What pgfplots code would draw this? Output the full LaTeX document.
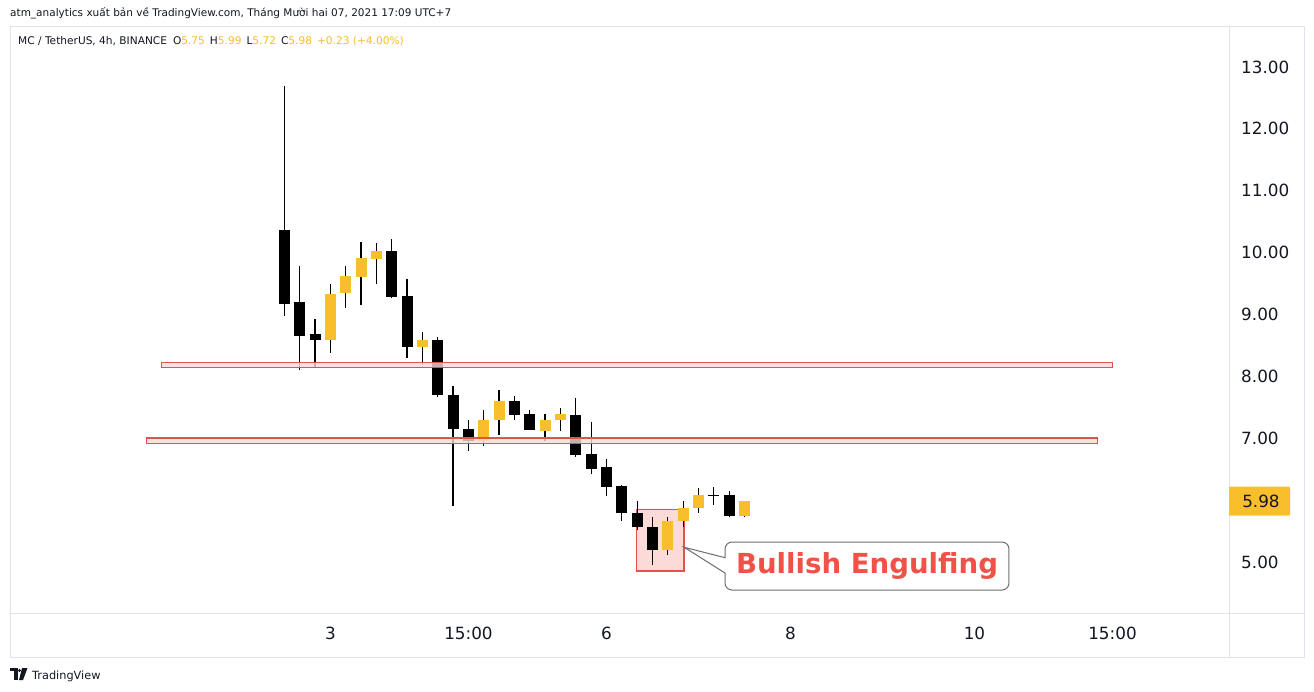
\documentclass[border=0pt]{standalone}
\usepackage{fontspec}
\usepackage{pgfplots}
\usepackage{pgfplotstable}
\pgfplotsset{compat=1.18}
\setmainfont{DejaVu Sans}
\definecolor{tvyellow}{RGB}{248,190,44}
\definecolor{tvframe}{RGB}{224,227,235}
\definecolor{zonefill}{RGB}{252,218,216}
\definecolor{zonered}{RGB}{222,84,74}
\definecolor{txtred}{RGB}{240,82,72}
\definecolor{callgray}{RGB}{110,110,110}
\definecolor{tvtext}{RGB}{19,23,34}

% index O H L C
\pgfplotstableread{
x O H L C
3 8.59 9.49 8.38 9.33
4 9.35 9.79 9.11 9.62
5 9.61 10.17 9.15 9.91
6 9.90 10.16 9.49 10.03
9 8.48 8.71 8.19 8.58
13 6.95 7.46 6.87 7.30
14 7.29 7.78 7.05 7.60
17 7.12 7.40 6.95 7.30
18 7.29 7.49 7.11 7.39
25 5.19 5.72 5.12 5.67
26 5.66 5.99 5.56 5.88
27 5.87 6.20 5.80 6.09
30 5.75 5.99 5.72 5.98
}\bull
\pgfplotstableread{
x O H L C
0 10.37 12.69 8.97 9.17
1 9.21 9.79 8.10 8.65
2 8.69 8.93 8.13 8.59
7 10.03 10.22 9.27 9.29
8 9.30 9.58 8.30 8.48
10 8.59 8.64 7.67 7.70
11 7.70 7.85 5.91 7.15
12 7.15 7.30 6.80 6.95
15 7.60 7.68 7.30 7.38
16 7.39 7.46 7.13 7.14
19 7.38 7.65 6.70 6.73
20 6.75 7.27 6.42 6.51
21 6.54 6.66 6.07 6.22
22 6.23 6.25 5.66 5.79
23 5.79 5.99 5.52 5.56
24 5.57 5.72 4.95 5.19
28 6.085 6.22 5.92 6.07
29 6.09 6.15 5.72 5.74
}\bear

\begin{document}
\begin{tikzpicture}
\path[use as bounding box, fill=white] (0pt,0pt) rectangle (1314pt,-692pt);
% frame
\draw[tvframe, line width=1pt] (10pt,-27pt) rectangle (1304pt,-657pt);
\draw[tvframe, line width=1pt] (1229pt,-27pt) -- (1229pt,-657pt);
\draw[tvframe, line width=1pt] (10pt,-613pt) -- (1304pt,-613pt);
% header
\node[anchor=base west, inner sep=0pt, text=tvtext] at (10pt,-17pt)
  {\fontsize{10.5}{12}\selectfont atm\_analytics xuất bản về TradingView.com, Tháng Mười hai 07, 2021 17:09 UTC+7};
\node[anchor=base west, inner sep=0pt, text=tvtext] at (18pt,-45pt)
  {\fontsize{10.6}{12}\selectfont MC / TetherUS, 4h, BINANCE\hspace{6pt}O\textcolor{tvyellow}{5.75}\hspace{5pt}H\textcolor{tvyellow}{5.99}\hspace{5pt}L\textcolor{tvyellow}{5.72}\hspace{5pt}C\textcolor{tvyellow}{5.98}\hspace{5pt}\textcolor{tvyellow}{+0.23 (+4.00\%)}};
% logo
\fill[tvtext] (10pt,-668pt) rectangle (18pt,-671pt);
\fill[tvtext] (14pt,-668pt) rectangle (17.5pt,-680pt);
\fill[tvtext] (19.5pt,-670.5pt) circle (1.6pt);
\fill[tvtext] (22pt,-668pt) -- (27.5pt,-668pt) -- (23pt,-680pt) -- (19pt,-680pt) -- cycle;
\node[anchor=base west, inner sep=0pt, text=tvtext] at (32pt,-679pt)
  {\fontsize{11.3}{13}\selectfont TradingView};

\begin{axis}[
  at={(10pt,-613pt)}, anchor=south west,
  width=1219pt, height=586pt, scale only axis,
  xmin=-17.9, xmax=61.6, ymin=4.176, ymax=13.646,
  axis line style={draw=none},
  major tick length=0pt,
  xtick={3,12,21,33,45,54},
  xticklabels={3,15:00,6,8,10,15:00},
  ytick={5,7,8,9,10,11,12,13},
  yticklabel pos=right,
  /pgf/number format/assume math mode=true,
  ticklabel style={font=\fontsize{16.8}{20}\selectfont, text=tvtext},
  yticklabel style={anchor=west, inner sep=0pt, xshift=12pt,
    /pgf/number format/fixed, /pgf/number format/fixed zerofill,
    /pgf/number format/precision=2},
  xticklabel style={anchor=base, inner sep=0pt, yshift=-26pt},
  clip=false,
]
% engulfing box (below candles)
\filldraw[fill=zonefill, draw=zonered, line width=1.5pt]
  (axis cs:22.97,4.855) rectangle (axis cs:26.07,5.852);

% wicks
\addplot[draw=none, mark=none, forget plot,
  error bars/.cd, y dir=plus, y explicit, error mark=none,
  error bar style={draw=black, line width=1.3pt}]
  table[x=x, y=L, y error plus expr=\thisrow{H}-\thisrow{L}] {\bull};
\addplot[draw=none, mark=none, forget plot,
  error bars/.cd, y dir=plus, y explicit, error mark=none,
  error bar style={draw=black, line width=1.3pt}]
  table[x=x, y=L, y error plus expr=\thisrow{H}-\thisrow{L}] {\bear};
% bodies
\addplot[draw=none, mark=none, forget plot,
  error bars/.cd, y dir=plus, y explicit, error mark=none,
  error bar style={draw=tvyellow, line width=11pt}]
  table[x=x, y=O, y error plus expr=\thisrow{C}-\thisrow{O}] {\bull};
\addplot[draw=none, mark=none, forget plot,
  error bars/.cd, y dir=plus, y explicit, error mark=none,
  error bar style={draw=black, line width=11pt}]
  table[x=x, y=C, y error plus expr=\thisrow{O}-\thisrow{C}] {\bear};

% zones
\filldraw[fill=zonefill, fill opacity=0.8, draw=zonered, line width=1.3pt]
  (axis cs:-8,8.142) rectangle (axis cs:54,8.229);
\filldraw[fill=zonefill, fill opacity=0.8, draw=zonered, line width=1.3pt]
  (axis cs:-9,6.914) rectangle (axis cs:53,7.002);

% callout
\draw[fill=white, draw=callgray, line width=1pt]
  (axis cs:28.73,5.070) [rounded corners=7pt] -- (axis cs:28.73,5.323) -- (axis cs:47.25,5.323)
  -- (axis cs:47.25,4.547) -- (axis cs:28.73,4.547) [sharp corners] -- (axis cs:28.73,4.822)
  -- (axis cs:26.07,5.238) -- cycle;
\node[text=txtred, inner sep=0pt] at (axis cs:37.99,4.935)
  {\fontsize{27.6}{30}\selectfont\bfseries Bullish Engulfing};

% last price label
\fill[tvyellow, rounded corners=1pt] (axis cs:61.6,6.218) rectangle (axis cs:65.58,5.750);
\node[anchor=west, inner sep=0pt, text=tvtext, font=\fontsize{16.8}{20}\selectfont]
  at (axis cs:62.45,5.98) {5.98};
\end{axis}
\end{tikzpicture}
\end{document}
